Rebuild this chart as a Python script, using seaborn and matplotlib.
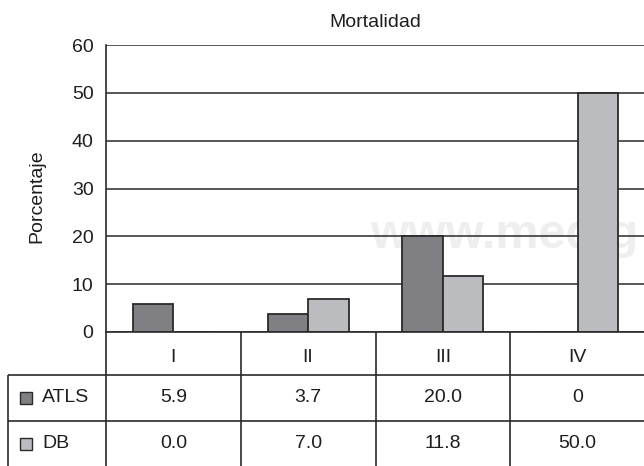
import matplotlib
matplotlib.use("Agg")
import matplotlib.pyplot as plt
import matplotlib.transforms as mtransforms
from matplotlib.patches import Rectangle
import seaborn as sns
import pandas as pd

# Mortality by grade (percent), two protocols
categories = ["I", "II", "III", "IV"]
series = ["ATLS", "DB"]
atls = [5.9, 3.7, 20.0, 0.0]
db = [0.0, 7.0, 11.8, 50.0]
atls_labels = ["5.9", "3.7", "20.0", "0"]
db_labels = ["0.0", "7.0", "11.8", "50.0"]
yticks = [0, 10, 20, 30, 40, 50, 60]

dark = "#7f7f84"
light = "#bbbcc0"
ink = "#2a2a2a"
text_color = "#1e1e1e"

sns.set_theme(style="white")
plt.rcParams["font.family"] = ["Liberation Sans", "DejaVu Sans"]

df = pd.DataFrame({
    "grado": categories * 2,
    "serie": [series[0]] * len(categories) + [series[1]] * len(categories),
    "valor": atls + db,
})

W, H = 644, 466
fig = plt.figure(figsize=(W / 100, H / 100), dpi=100, facecolor="white")
ax = fig.add_axes([106 / W, 1 - 332 / H, 539 / W, 287 / H])

sns.barplot(
    data=df, x="grado", y="valor", hue="serie",
    order=categories, hue_order=series,
    palette=[dark, light], saturation=1, width=0.6,
    edgecolor=ink, linewidth=1.3, errorbar=None, legend=False, ax=ax,
)

ax.set_xlim(-0.5, len(categories) - 0.5)
ax.set_ylim(0, 60)
ax.set_yticks(yticks)
ax.set_axisbelow(True)
ax.yaxis.grid(True, color=ink, linewidth=1.1)
ax.xaxis.grid(False)
for side in ["top", "right"]:
    ax.spines[side].set_visible(False)
for side in ["left", "bottom"]:
    ax.spines[side].set_color(ink)
    ax.spines[side].set_linewidth(1.2)

ax.tick_params(axis="y", length=0, pad=9, labelsize=14, labelcolor=text_color)
ax.tick_params(axis="x", length=0, pad=12, labelsize=14, labelcolor=text_color)
ax.set_xlabel("")
ax.set_ylabel("Porcentaje", fontsize=14, color=text_color)
ax.yaxis.set_label_coords(-0.113, 0.474)
ax.set_title("Mortalidad", fontsize=14, color=text_color, pad=13)

# faint site watermark behind the grid
ax.text(0.49, 0.294, "www.medig", transform=ax.transAxes,
        fontsize=35, fontweight="bold", family="Liberation Sans",
        color="#eeeeee", ha="left", va="baseline",
        zorder=0.2, clip_on=True)

# data table under the axis
fig_px = mtransforms.Affine2D().scale(1 / W, -1 / H).translate(0, 1) + fig.transFigure
col_tr = mtransforms.blended_transform_factory(ax.transData, fig_px)

row_top, row_mid, row_bot = 375, 421, 466
for i in range(len(categories)):
    ax.plot([i - 0.5, i - 0.5], [332, H + 2], transform=col_tr, color=ink,
            lw=1.2, clip_on=False, solid_capstyle="butt")
for yy in (row_top, row_mid):
    ax.plot([8, W + 2], [yy, yy], transform=fig_px, color=ink, lw=1.2,
            clip_on=False, solid_capstyle="butt")
ax.plot([8, 8], [row_top, H + 2], transform=fig_px, color=ink, lw=1.2,
        clip_on=False, solid_capstyle="butt")

rows = [(series[0], atls_labels, dark, (row_top + row_mid) / 2),
        (series[1], db_labels, light, (row_mid + row_bot) / 2)]
for name, labels, color, yc in rows:
    ax.add_artist(Rectangle((20, yc - 6), 12, 12, transform=fig_px,
                            facecolor=color, edgecolor=ink, lw=1.0,
                            clip_on=False))
    ax.text(42, yc, name, transform=fig_px, fontsize=14, color=text_color,
            ha="left", va="center")
    for i, lab in enumerate(labels):
        ax.text(i, yc, lab, transform=col_tr, fontsize=14, color=text_color,
                ha="center", va="center", clip_on=False)

fig.savefig("out.png", dpi=100, facecolor="white")
